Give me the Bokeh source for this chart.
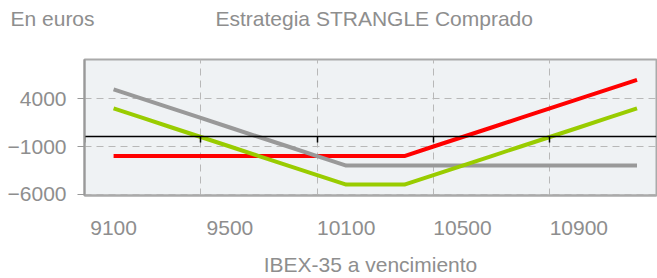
from bokeh.plotting import figure
from bokeh.models import LinearAxis, FixedTicker, Range1d, Label
from bokeh.embed import file_html
from bokeh.resources import INLINE

# ---- data ----
ibex = [9100, 9200, 9300, 9400, 9500, 9600, 9700, 9800, 9900, 10000,
        10100, 10200, 10300, 10400, 10500, 10600, 10700, 10800, 10900]
put_pl = [5000, 4000, 3000, 2000, 1000, 0, -1000, -2000, -3000, -3000,
          -3000, -3000, -3000, -3000, -3000, -3000, -3000, -3000, -3000]
call_pl = [-2000, -2000, -2000, -2000, -2000, -2000, -2000, -2000, -2000, -2000,
           -2000, -1000, 0, 1000, 2000, 3000, 4000, 5000, 6000]
strangle_pl = [3000, 2000, 1000, 0, -1000, -2000, -3000, -4000, -5000, -5000,
               -5000, -4000, -3000, -2000, -1000, 0, 1000, 2000, 3000]
x_tick_pos = [9100, 9500, 9900, 10300, 10700]
x_tick_labels = ["9100", "9500", "10100", "10500", "10900"]
grid_x = [9000, 9400, 9800, 10200, 10600]
y_ticks = [-6000, -1000, 4000]
unit_label = "En euros"
chart_title = "Estrategia STRANGLE Comprado"
x_title = "IBEX-35 a vencimiento"

FONT = "Liberation Sans"
TXT = "#8e8e8e"
FS = "21px"

X0, X1 = 9000, 10967
Y0, Y1 = -6145, 8140

p = figure(width=657, height=278, output_backend="svg", toolbar_location=None,
           x_range=Range1d(X0, X1), y_range=Range1d(Y0, Y1),
           min_border_left=84, min_border_right=1, min_border_top=59,
           min_border_bottom=81)
p.background_fill_color = "#eff2f4"
p.border_fill_color = "white"
p.outline_line_color = "#aaaaaa"
p.outline_line_width = 2

# grids
p.xgrid.ticker = FixedTicker(ticks=grid_x)
p.ygrid.ticker = FixedTicker(ticks=y_ticks)
for g in (p.xgrid, p.ygrid):
    g.grid_line_color = "#b8b8b8"
    g.grid_line_dash = "7 5"
    g.grid_line_width = 1

# bottom axis (labels only)
xa = p.xaxis[0]
xa.ticker = FixedTicker(ticks=x_tick_pos)
xa.major_label_overrides = {pos: lab for pos, lab in zip(x_tick_pos, x_tick_labels)}
xa.major_tick_line_color = None
xa.minor_tick_line_color = None
xa.axis_line_color = "#aaaaaa"
xa.axis_line_width = 2
xa.major_label_text_font = FONT
xa.major_label_text_font_size = FS
xa.major_label_text_color = TXT
xa.major_label_standoff = 19
xa.axis_label = x_title
xa.axis_label_text_font = FONT
xa.axis_label_text_font_size = FS
xa.axis_label_text_color = TXT
xa.axis_label_text_font_style = "normal"
xa.axis_label_standoff = 15

# left axis
ya = p.yaxis[0]
ya.ticker = FixedTicker(ticks=y_ticks)
ya.minor_tick_line_color = None
ya.axis_line_color = "#999999"
ya.axis_line_width = 2
ya.major_tick_line_color = "#999999"
ya.major_tick_out = 7
ya.major_tick_in = 0
ya.major_label_text_font = FONT
ya.major_label_text_font_size = FS
ya.major_label_text_color = TXT
ya.major_label_standoff = 11

# lines
p.line(ibex, call_pl, line_color="#ff0000", line_width=4)
p.line(ibex, put_pl, line_color="#999999", line_width=4)
p.line(ibex, strangle_pl, line_color="#99cc00", line_width=4)

# zero axis with ticks
za = LinearAxis(fixed_location=0, ticker=FixedTicker(ticks=grid_x))
za.axis_line_color = "black"
za.axis_line_width = 1.5
za.major_tick_line_color = "black"
za.major_tick_line_width = 1.5
za.major_tick_out = 6
za.major_tick_in = 0
za.minor_tick_line_color = None
za.major_label_text_color = None
p.add_layout(za, "below")

# top texts: labels placed in the top side panel (not clipped to the frame)
p.add_layout(Label(x=10, y=18, x_units="canvas", y_units="canvas", text=unit_label,
                   text_font=FONT, text_font_size=FS, text_color=TXT,
                   text_baseline="alphabetic"), "above")
p.add_layout(Label(x=215, y=18, x_units="canvas", y_units="canvas", text=chart_title,
                   text_font=FONT, text_font_size=FS, text_color=TXT,
                   text_baseline="alphabetic"), "above")

open("out.html", "w").write(file_html(p, INLINE))
